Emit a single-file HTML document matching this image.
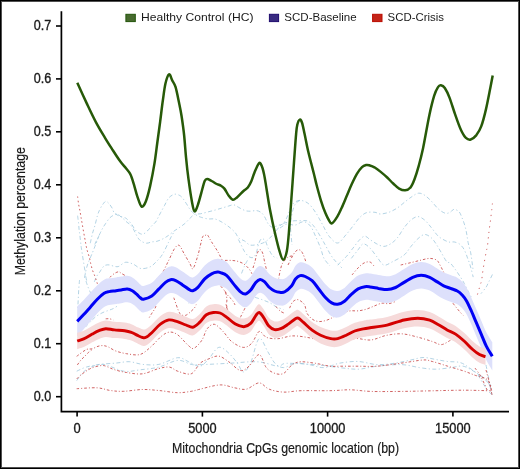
<!DOCTYPE html>
<html><head><meta charset="utf-8"><style>
html,body{margin:0;padding:0;background:#fff;}
body{width:520px;height:469px;overflow:hidden;position:relative;}
#fr{position:absolute;left:0;top:0;width:518px;height:467px;border:1px solid #000;box-shadow:inset 0 0 0 1px #505050;}
svg{position:absolute;left:0;top:0;will-change:transform;}
text{font-family:"Liberation Sans",sans-serif;fill:#1a1a1a;stroke:#1a1a1a;stroke-width:0.35px;}
.tk{font-size:14px;}
.tt{font-size:15.2px;stroke-width:0.2px;}
.lg{font-size:11px;stroke-width:0;}
</style></head><body>
<div id="fr"></div>
<svg width="520" height="469" viewBox="0 0 520 469">
<path d="M90.3,243.2 C90.6,241.7 91.5,237.1 92.3,234.2 C93.0,231.3 93.9,229.0 94.8,225.9 C95.7,222.8 96.7,218.2 97.4,215.7 C98.2,213.1 98.5,212.4 99.3,210.6 C100.1,208.8 101.4,206.3 102.5,204.8 C103.6,203.3 104.6,201.6 105.7,201.4 C106.8,201.2 107.8,202.4 108.9,203.5 C110.0,204.6 111.2,206.5 112.1,208.0 C112.9,209.5 113.2,211.3 114.0,212.5 C114.8,213.7 116.1,214.4 117.2,215.0 C118.3,215.6 119.2,215.9 120.4,216.3 C121.6,216.7 123.1,217.2 124.2,217.6 C125.3,218.0 125.5,217.7 126.8,218.9 C128.1,220.1 130.5,222.8 131.9,224.6 C133.3,226.4 133.9,228.4 135.1,229.8 C136.3,231.2 137.7,232.3 139.0,233.0 C140.3,233.7 141.4,234.5 142.8,234.2 C144.2,233.9 145.8,232.4 147.3,231.0 C148.8,229.6 150.3,227.4 151.7,225.9 C153.1,224.4 154.5,223.5 155.6,222.1 C156.7,220.7 157.2,219.2 158.1,217.6 C158.9,216.0 159.6,214.5 160.7,212.5 C161.8,210.5 163.2,207.8 164.5,205.5 C165.8,203.2 167.1,200.1 168.4,198.4 C169.7,196.7 171.0,195.9 172.2,195.2 C173.4,194.5 174.2,194.2 175.4,194.2 C176.6,194.2 178.0,194.6 179.2,195.2 C180.4,195.8 181.2,196.4 182.4,197.8 C183.6,199.2 185.1,201.7 186.3,203.5 C187.5,205.3 188.4,207.2 189.5,208.7 C190.6,210.2 191.6,211.5 192.7,212.5 C193.8,213.5 194.6,214.1 195.9,214.8 C197.2,215.6 198.3,216.3 200.3,217.0 C202.3,217.7 205.7,218.6 208.0,218.9 C210.3,219.2 212.5,218.6 214.4,218.9 C216.3,219.2 217.6,219.9 219.5,220.8 C221.4,221.8 224.0,223.3 225.9,224.6 C227.8,225.9 229.4,227.1 231.0,228.5 C232.6,229.9 234.2,231.4 235.5,233.0 C236.8,234.6 237.2,236.7 238.7,238.0 C240.2,239.3 242.7,239.8 244.6,241.0 C246.5,242.2 247.9,244.4 250.0,245.0 C252.1,245.6 254.4,245.1 256.9,244.6 C259.4,244.1 262.4,243.5 265.0,242.0 C267.6,240.5 269.6,238.3 272.3,235.4 C275.1,232.5 278.8,226.8 281.5,224.6 C284.2,222.4 286.6,222.7 288.6,222.1 C290.6,221.5 291.5,221.0 293.7,220.8 C295.9,220.6 299.6,220.8 301.8,220.8 C304.0,220.8 305.2,220.2 306.9,220.8 C308.6,221.4 310.4,222.5 312.1,224.2 C313.8,225.9 315.4,228.2 317.2,231.1 C319.0,233.9 320.9,237.3 323.2,241.3 C325.5,245.3 328.7,251.6 330.8,255.0 C332.9,258.4 334.1,259.6 336.0,261.8 C337.9,264.0 341.0,267.0 342.0,268.0" fill="none" stroke="#96c2da" stroke-width="1" stroke-dasharray="4 2.5 1.2 2.5" opacity="0.72"/>
<path d="M94.8,244.5 C95.2,243.5 96.4,240.7 97.4,238.7 C98.4,236.7 99.8,234.0 100.6,232.3 C101.4,230.6 101.7,230.0 102.5,228.5 C103.3,227.0 104.5,225.1 105.7,223.4 C106.9,221.7 108.3,219.5 109.5,218.2 C110.7,216.9 111.5,216.4 112.7,215.7 C113.9,215.0 115.6,214.0 116.6,213.8 C117.6,213.6 117.8,213.9 118.5,214.4 C119.2,214.9 120.0,216.2 121.0,217.0 C122.0,217.8 123.2,218.7 124.2,219.5 C125.2,220.3 125.5,220.9 126.8,222.1 C128.1,223.3 130.1,223.9 131.9,226.5 C133.7,229.1 136.1,234.9 137.7,237.4 C139.3,239.9 140.0,240.3 141.5,241.3 C143.0,242.3 144.9,243.1 146.6,243.2 C148.3,243.3 150.0,242.2 151.7,241.9 C153.4,241.6 155.0,241.8 156.9,241.3 C158.8,240.8 161.3,239.7 163.2,238.7 C165.1,237.7 166.6,236.8 168.4,235.5 C170.2,234.2 172.2,232.4 174.1,231.0 C176.0,229.6 178.1,228.5 179.9,227.2 C181.7,225.9 183.3,224.9 185.0,223.4 C186.7,221.9 188.5,219.7 190.1,218.2 C191.7,216.7 192.9,215.1 194.6,214.4 C196.3,213.7 198.1,214.2 200.3,213.8 C202.5,213.4 205.4,212.6 208.0,211.9 C210.6,211.2 213.3,210.6 215.7,209.9 C218.0,209.2 220.0,208.6 222.1,208.0 C224.2,207.4 226.6,206.6 228.5,206.1 C230.4,205.6 231.9,204.6 233.6,204.8 C235.3,205.0 236.8,206.4 238.7,207.4 C240.6,208.4 243.2,210.0 245.1,210.6 C247.0,211.2 248.3,211.2 250.2,211.2 C252.1,211.2 254.8,210.4 256.6,210.6 C258.4,210.8 259.8,211.6 261.1,212.5 C262.4,213.4 263.2,214.6 264.3,216.3 C265.4,218.0 266.6,221.1 267.5,222.7 C268.4,224.3 269.1,225.2 270.0,225.9 C270.9,226.7 271.8,227.3 273.2,227.2 C274.6,227.1 276.7,225.9 278.4,225.3 C280.1,224.7 281.9,225.1 283.5,223.4 C285.1,221.7 286.8,217.7 288.0,215.0 C289.2,212.3 289.8,209.2 291.0,207.0 C292.2,204.8 293.3,203.2 295.0,202.1 C296.7,201.0 298.7,200.1 301.0,200.4 C303.3,200.7 306.3,201.8 308.7,203.8 C311.1,205.8 313.2,208.9 315.5,212.3 C317.8,215.7 320.0,220.2 322.3,224.2 C324.6,228.2 326.5,233.1 329.1,236.2 C331.7,239.3 334.9,243.3 337.7,243.0 C340.5,242.7 343.6,237.3 346.2,234.5 C348.8,231.7 350.7,228.8 353.0,226.0 C355.3,223.2 357.5,219.6 359.8,217.4 C362.1,215.2 364.2,213.4 366.7,212.6 C369.2,211.8 372.8,212.1 375.0,212.3 C377.2,212.5 377.9,214.0 380.2,214.0 C382.5,214.0 385.9,213.3 388.8,212.3 C391.7,211.3 394.5,209.8 397.3,208.0 C400.1,206.2 403.2,203.2 405.8,201.2 C408.4,199.2 410.6,197.4 412.7,196.1 C414.8,194.8 416.6,193.3 418.6,193.2 C420.6,193.0 422.5,193.9 424.6,195.2 C426.7,196.5 429.1,198.9 431.4,201.2 C433.7,203.5 436.0,206.9 438.3,208.9 C440.6,210.9 443.2,212.6 445.1,213.2 C447.1,213.8 448.5,213.0 450.0,212.3 C451.5,211.7 452.6,209.4 454.1,209.3 C455.6,209.2 457.9,210.6 459.2,211.9 C460.5,213.2 460.9,215.3 461.7,217.0 C462.4,218.7 463.0,220.2 463.7,222.1 C464.4,224.0 465.1,226.4 465.6,228.5 C466.1,230.6 466.5,232.6 466.9,234.9 C467.3,237.2 467.5,239.5 468.1,242.5 C468.7,245.5 470.1,249.6 470.7,252.8 C471.3,256.0 471.6,258.7 472.0,261.7 C472.4,264.7 473.0,269.2 473.2,270.7" fill="none" stroke="#96c2da" stroke-width="1" stroke-dasharray="4 2.5 1.2 2.5" opacity="0.72"/>
<path d="M280.0,228.0 C281.2,227.3 284.5,224.5 287.0,224.0 C289.5,223.5 292.2,225.5 295.0,225.1 C297.8,224.7 300.9,221.5 303.5,221.7 C306.1,221.8 308.4,223.6 310.4,226.0 C312.4,228.4 313.8,232.5 315.5,236.2 C317.2,239.9 319.2,244.4 320.6,248.1 C322.0,251.8 322.4,255.4 324.0,258.4 C325.6,261.4 329.0,264.7 330.0,266.0" fill="none" stroke="#96c2da" stroke-width="1" stroke-dasharray="4 2.5 1.2 2.5" opacity="0.72"/>
<path d="M337.7,265.0 C339.1,263.6 343.6,259.5 346.2,256.7 C348.8,253.9 350.7,250.9 353.0,248.1 C355.3,245.2 357.8,241.6 359.8,239.6 C361.8,237.6 363.3,236.2 365.0,236.2 C366.7,236.2 368.0,238.3 370.0,239.6 C372.0,240.9 374.5,242.8 376.8,243.9 C379.1,245.0 381.4,246.4 383.7,246.4 C386.0,246.4 388.2,245.3 390.5,243.9 C392.8,242.5 395.0,240.6 397.3,237.9 C399.6,235.2 401.8,230.7 404.1,227.7 C406.4,224.7 408.7,221.8 411.0,220.0 C413.3,218.2 415.5,216.6 417.8,216.6 C420.1,216.6 422.3,218.2 424.6,220.0 C426.9,221.8 429.1,225.0 431.4,227.7 C433.7,230.4 436.0,234.1 438.3,236.2 C440.6,238.3 443.2,239.5 445.1,240.5 C447.1,241.5 448.5,242.0 450.0,242.2 C451.5,242.4 452.6,241.6 454.1,241.9 C455.6,242.2 457.7,242.8 459.2,243.8 C460.7,244.8 461.9,246.2 463.0,247.7 C464.1,249.2 464.9,251.1 465.6,252.8 C466.4,254.5 466.9,256.2 467.5,257.9 C468.1,259.6 468.8,261.1 469.4,263.0 C470.0,264.9 470.7,267.0 471.3,269.4 C471.9,271.8 472.9,275.8 473.2,277.1" fill="none" stroke="#96c2da" stroke-width="1" stroke-dasharray="4 2.5 1.2 2.5" opacity="0.72"/>
<path d="M351.3,258.4 C352.4,257.0 356.1,252.2 358.1,249.8 C360.1,247.4 361.3,244.2 363.3,243.9 C365.3,243.6 367.8,246.0 370.0,248.1 C372.2,250.2 374.5,253.9 376.8,256.7 C379.1,259.5 381.2,264.1 383.7,265.0 C386.2,265.9 388.6,263.7 392.0,262.0 C395.4,260.3 400.9,257.6 404.1,255.0 C407.3,252.4 408.7,249.1 411.0,246.4 C413.3,243.7 415.5,240.8 417.8,238.8 C420.1,236.8 422.3,234.7 424.6,234.5 C426.9,234.3 429.4,236.2 431.4,237.9 C433.4,239.6 434.9,242.1 436.6,244.7 C438.3,247.3 440.0,250.5 441.7,253.3 C443.4,256.2 445.4,260.2 446.8,261.8 C448.2,263.4 448.8,261.7 450.2,263.0 C451.6,264.3 453.6,267.0 455.3,269.4 C457.0,271.8 459.0,274.8 460.5,277.1 C462.0,279.5 463.0,281.1 464.3,283.5 C465.6,285.9 466.8,288.6 468.1,291.2 C469.4,293.8 471.4,297.5 472.0,298.8" fill="none" stroke="#96c2da" stroke-width="1" stroke-dasharray="4 2.5 1.2 2.5" opacity="0.72"/>
<path d="M77.6,215.7 C77.8,217.0 78.3,221.1 78.6,223.4 C78.8,225.8 78.9,227.8 79.1,229.8 C79.3,231.8 79.6,233.0 79.9,235.5 C80.2,238.0 80.6,242.4 80.9,244.6 C81.2,246.8 80.9,244.8 81.5,248.9 C82.1,253.0 84.0,264.8 84.7,269.1 C85.4,273.5 85.2,272.9 85.5,275.0 C85.8,277.1 86.6,280.3 86.8,281.4" fill="none" stroke="#96c2da" stroke-width="1" stroke-dasharray="4 2.5 1.2 2.5" opacity="0.72"/>
<path d="M99.0,235.5 C98.7,236.5 97.6,239.5 96.9,241.4 C96.2,243.3 95.5,244.9 94.8,246.7 C94.1,248.5 93.5,250.1 92.7,252.1 C91.9,254.1 91.0,256.0 90.0,258.5 C89.0,261.0 87.8,263.4 86.8,267.0 C85.8,270.6 84.5,277.8 84.0,280.0" fill="none" stroke="#96c2da" stroke-width="1" stroke-dasharray="4 2.5 1.2 2.5" opacity="0.72"/>
<path d="M94.3,281.9 C94.7,280.9 96.0,277.6 96.9,276.0 C97.8,274.4 98.7,273.6 99.6,272.3 C100.5,271.0 101.4,269.1 102.3,268.0 C103.2,266.9 103.8,265.9 104.9,265.4 C106.1,264.9 107.6,264.7 109.2,264.9 C110.8,265.1 112.9,266.1 114.5,266.4 C116.1,266.6 117.0,267.1 118.8,266.4 C120.6,265.7 123.0,262.7 125.4,262.3 C127.8,261.9 130.4,263.0 133.0,264.0 C135.6,265.0 138.0,268.0 140.8,268.5 C143.6,269.0 147.5,268.0 150.0,266.9 C152.5,265.8 153.9,264.1 156.0,262.0 C158.1,259.9 160.2,257.9 162.3,254.6 C164.4,251.3 167.0,245.4 168.5,242.3 C170.0,239.2 170.6,237.9 171.5,236.2 C172.4,234.5 173.6,232.7 174.0,232.0" fill="none" stroke="#96c2da" stroke-width="1" stroke-dasharray="4 2.5 1.2 2.5" opacity="0.72"/>
<path d="M492.4,274.5 C491.8,275.8 489.7,280.1 488.6,282.2 C487.5,284.3 487.3,285.4 486.0,287.3 C484.7,289.2 481.8,292.6 480.9,293.7" fill="none" stroke="#96c2da" stroke-width="1" stroke-dasharray="4 2.5 1.2 2.5" opacity="0.72"/>
<path d="M300.0,200.3 C299.4,200.7 297.4,201.7 296.3,202.9 C295.2,204.1 294.6,204.9 293.7,207.4 C292.8,209.9 291.7,214.9 291.2,218.2 C290.7,221.5 290.5,224.2 290.5,227.2 C290.5,230.2 290.9,233.2 291.2,236.2 C291.4,239.2 291.9,243.5 292.0,245.0" fill="none" stroke="#96c2da" stroke-width="1" stroke-dasharray="4 2.5 1.2 2.5" opacity="0.72"/>
<path d="M238.4,239.5 C238.9,240.5 240.4,243.4 241.4,245.4 C242.4,247.4 243.2,249.5 244.4,251.4 C245.7,253.3 247.4,255.6 248.9,256.6 C250.4,257.6 252.2,258.0 253.4,257.4 C254.6,256.8 255.4,255.1 256.3,252.9 C257.2,250.7 257.7,246.4 258.6,244.0 C259.5,241.6 260.5,239.2 261.6,238.7 C262.7,238.2 264.2,239.4 265.3,241.0 C266.4,242.6 267.1,245.9 268.3,248.4 C269.6,250.9 271.3,254.3 272.8,255.9 C274.3,257.5 276.5,257.7 277.2,258.1" fill="none" stroke="#96c2da" stroke-width="1" stroke-dasharray="4 2.5 1.2 2.5" opacity="0.72"/>
<path d="M247.4,260.4 C246.9,261.4 245.4,264.1 244.4,266.3 C243.4,268.5 241.9,272.6 241.4,273.8" fill="none" stroke="#96c2da" stroke-width="1" stroke-dasharray="4 2.5 1.2 2.5" opacity="0.72"/>
<path d="M85.2,327.1 C86.0,326.2 88.6,323.7 90.3,322.0 C92.0,320.3 93.6,318.4 95.5,316.9 C97.4,315.4 99.8,314.1 101.9,313.0 C104.0,311.9 106.3,311.2 108.2,310.5 C110.1,309.8 111.7,309.4 113.4,308.5 C115.1,307.6 117.7,305.8 118.5,305.3" fill="none" stroke="#96c2da" stroke-width="1" stroke-dasharray="4 2.5 1.2 2.5" opacity="0.72"/>
<path d="M76.7,371.2 C78.3,370.5 82.4,368.2 86.2,367.1 C90.0,366.0 94.7,365.1 99.6,364.4 C104.5,363.7 110.9,363.6 115.8,363.1 C120.7,362.7 124.7,361.5 129.2,361.7 C133.7,361.9 137.8,363.9 142.7,364.4 C147.6,364.8 153.0,365.5 158.8,364.4 C164.6,363.3 172.8,358.1 177.7,357.7 C182.6,357.2 184.8,360.3 188.5,361.7 C192.2,363.1 196.6,366.7 200.0,366.2 C203.4,365.7 205.6,362.0 208.7,358.9 C211.8,355.8 215.3,348.3 218.7,347.4 C222.0,346.4 225.7,350.5 228.8,353.2 C231.9,355.9 235.1,360.2 237.5,363.3 C239.9,366.4 241.1,371.9 243.3,371.9 C245.5,371.9 247.9,368.8 250.5,363.3 C253.1,357.8 256.2,340.6 259.1,338.7 C262.0,336.8 265.2,347.6 267.8,351.7 C270.4,355.8 272.4,360.6 275.0,363.3 C277.6,366.0 280.2,367.6 283.6,367.6 C287.0,367.6 290.9,363.8 295.2,363.3 C299.5,362.8 304.8,364.0 309.6,364.7 C314.4,365.4 318.9,367.9 324.0,367.6 C329.1,367.3 334.2,364.1 340.0,363.1 C345.8,362.1 352.4,361.2 358.5,361.5 C364.6,361.8 370.8,364.3 376.9,364.6 C383.0,364.9 389.8,363.9 395.4,363.1 C401.0,362.3 406.2,360.9 410.8,360.0 C415.4,359.1 419.0,357.6 423.1,357.5 C427.2,357.4 431.3,358.7 435.4,359.4 C439.5,360.1 443.6,361.0 447.7,361.5 C451.8,362.0 456.4,361.5 460.0,362.5 C463.6,363.5 465.6,365.3 469.2,367.7 C472.8,370.1 477.6,373.8 481.5,376.9 C485.4,380.0 490.5,384.6 492.3,386.2" fill="none" stroke="#96c2da" stroke-width="1" stroke-dasharray="4 2.5 1.2 2.5" opacity="0.72"/>
<path d="M76.7,380.6 C78.3,378.8 81.9,372.5 86.2,369.8 C90.5,367.1 96.0,364.2 102.3,364.4 C108.6,364.6 117.5,370.3 123.8,371.2 C130.1,372.1 134.2,370.5 140.0,369.8 C145.8,369.1 152.5,368.7 158.8,367.1 C165.1,365.5 172.3,360.8 177.7,360.4 C183.1,359.9 187.5,363.7 191.2,364.4 C194.9,365.1 193.7,364.9 200.0,364.7 C206.3,364.5 219.2,363.8 228.8,363.3 C238.4,362.8 249.5,361.3 257.7,361.8 C265.9,362.3 273.1,365.9 277.9,366.2 C282.7,366.4 280.2,363.6 286.5,363.3 C292.8,363.1 306.5,364.0 315.4,364.7 C324.3,365.4 332.8,366.9 340.0,367.7 C347.2,368.4 352.4,369.4 358.5,369.2 C364.6,368.9 369.7,367.0 376.9,366.2 C384.1,365.4 394.3,364.4 401.5,364.6 C408.7,364.9 414.4,366.9 420.0,367.7 C425.6,368.5 430.3,369.2 435.4,369.2 C440.5,369.2 446.2,368.2 450.8,367.7 C455.4,367.2 459.0,365.4 463.1,366.2 C467.2,367.0 471.3,369.8 475.4,372.3 C479.5,374.9 484.9,377.7 487.7,381.5 C490.5,385.3 491.3,392.8 492.0,395.0" fill="none" stroke="#96c2da" stroke-width="1" stroke-dasharray="4 2.5 1.2 2.5" opacity="0.72"/>
<path d="M79.5,280.0 C79.4,281.7 78.9,286.7 78.7,290.0 C78.5,293.3 78.4,297.0 78.2,300.0 C78.0,303.0 77.9,306.7 77.8,308.0" fill="none" stroke="#96c2da" stroke-width="1" stroke-dasharray="4 2.5 1.2 2.5" opacity="0.72"/>
<path d="M86.0,281.0 C86.3,282.0 87.2,285.0 88.0,287.0 C88.8,289.0 90.2,292.0 90.6,293.0" fill="none" stroke="#96c2da" stroke-width="1" stroke-dasharray="4 2.5 1.2 2.5" opacity="0.72"/>
<path d="M188.5,303.0 C189.8,302.5 194.9,300.5 196.2,300.0" fill="none" stroke="#96c2da" stroke-width="1" stroke-dasharray="4 2.5 1.2 2.5" opacity="0.72"/>
<path d="M255.0,297.3 C256.1,297.7 259.5,298.7 261.9,299.6 C264.3,300.5 267.3,301.6 269.6,302.7 C271.9,303.8 273.5,305.4 275.8,306.5 C278.1,307.6 282.2,309.1 283.5,309.6" fill="none" stroke="#96c2da" stroke-width="1" stroke-dasharray="4 2.5 1.2 2.5" opacity="0.72"/>
<path d="M486.0,365.0 C486.5,367.5 488.2,375.5 489.0,380.0 C489.8,384.5 490.7,390.0 491.0,392.0" fill="none" stroke="#96c2da" stroke-width="1" stroke-dasharray="4 2.5 1.2 2.5" opacity="0.72"/>
<path d="M478.0,375.0 C479.3,377.2 483.8,384.8 486.0,388.0 C488.2,391.2 490.2,393.0 491.0,394.0" fill="none" stroke="#96c2da" stroke-width="1" stroke-dasharray="4 2.5 1.2 2.5" opacity="0.72"/>
<path d="M77.6,196.5 C77.8,197.8 78.2,201.8 78.6,204.2 C79.0,206.5 79.5,208.4 79.9,210.6 C80.3,212.8 80.8,215.9 81.1,217.6 C81.4,219.2 81.0,217.2 81.6,220.5 C82.2,223.8 83.7,232.7 84.6,237.4 C85.5,242.1 86.0,245.5 86.8,248.9 C87.6,252.3 88.9,255.6 89.5,257.9 C90.1,260.2 90.0,260.8 90.5,262.7 C91.0,264.6 91.6,267.4 92.3,269.6 C93.0,271.8 94.1,274.1 94.8,276.0 C95.5,277.9 96.0,279.5 96.4,280.8 C96.9,282.1 97.3,283.5 97.5,284.0" fill="none" stroke="#c84848" stroke-width="1" stroke-dasharray="1.6 2.6" opacity="0.85"/>
<path d="M76.7,356.3 C78.3,355.2 83.6,350.9 86.2,349.6 C88.8,348.4 90.3,349.4 92.3,348.8 C94.3,348.2 96.2,346.8 98.0,346.3 C99.8,345.8 101.4,345.5 103.1,345.6 C104.8,345.7 106.1,346.0 108.2,346.9 C110.3,347.8 112.8,349.9 115.8,351.0 C118.8,352.1 122.5,353.1 126.5,353.7 C130.5,354.3 135.9,355.6 140.0,354.5 C144.1,353.4 147.2,349.9 150.8,346.9 C154.4,343.8 158.4,338.7 161.5,336.2 C164.6,333.7 166.9,332.3 169.6,332.1 C172.3,331.9 174.5,332.6 177.7,334.8 C180.8,337.1 185.8,343.4 188.5,345.6 C191.2,347.9 191.7,349.2 193.9,348.3 C196.1,347.4 199.7,343.5 201.9,340.2 C204.1,336.9 205.1,331.3 207.2,328.7 C209.3,326.1 211.8,323.8 214.4,324.3 C217.1,324.8 220.2,328.6 223.1,331.5 C226.0,334.4 228.3,339.0 231.7,341.6 C235.1,344.2 239.9,347.1 243.3,347.4 C246.7,347.6 249.3,345.8 251.9,343.1 C254.5,340.5 256.7,332.5 259.1,331.5 C261.5,330.5 263.2,336.1 266.3,337.3 C269.4,338.5 273.6,338.9 277.9,338.7 C282.2,338.5 287.5,336.1 292.3,335.9 C297.1,335.7 302.1,336.6 306.7,337.3 C311.3,338.0 314.4,339.3 320.0,340.0 C325.6,340.7 334.1,341.8 340.0,341.5 C345.9,341.2 350.3,338.8 355.4,338.5 C360.5,338.2 365.7,340.5 370.8,340.0 C375.9,339.5 381.1,336.4 386.2,335.4 C391.3,334.4 396.4,333.6 401.5,333.8 C406.6,334.1 411.8,335.6 416.9,336.9 C422.0,338.2 428.2,340.2 432.3,341.5 C436.4,342.8 438.4,344.9 441.5,344.6 C444.6,344.4 449.2,340.8 450.8,340.0" fill="none" stroke="#c84848" stroke-width="1" stroke-dasharray="2.6 2 1 2" opacity="0.85"/>
<path d="M76.7,379.0 C77.3,378.4 78.8,376.7 80.2,375.5 C81.6,374.3 83.3,373.1 84.9,372.0 C86.5,370.9 87.8,369.9 89.6,369.0 C91.3,368.1 93.2,367.3 95.4,366.7 C97.6,366.1 100.5,365.5 102.5,365.5 C104.5,365.5 105.2,366.0 107.2,366.7 C109.2,367.4 111.0,368.6 114.2,369.6 C117.4,370.6 121.8,371.8 126.5,372.5 C131.2,373.2 137.3,374.5 142.7,373.8 C148.1,373.1 154.3,369.6 158.8,368.5 C163.3,367.4 166.4,366.7 169.6,367.1 C172.8,367.6 174.1,370.1 177.7,371.2 C181.3,372.3 187.5,375.1 191.2,373.8 C194.9,372.5 197.1,365.8 200.0,363.3 C202.9,360.8 205.6,360.1 208.7,358.9 C211.8,357.7 215.3,355.6 218.7,356.1 C222.0,356.6 225.2,359.4 228.8,361.8 C232.4,364.2 237.0,369.8 240.4,370.5 C243.8,371.2 245.9,368.8 249.0,366.2 C252.1,363.6 256.2,354.4 259.1,354.6 C262.0,354.8 263.7,364.5 266.3,367.6 C268.9,370.7 272.1,372.4 275.0,373.4 C277.9,374.4 280.7,374.8 283.6,373.4 C286.5,371.9 289.4,366.6 292.3,364.7 C295.2,362.8 297.1,362.0 301.0,361.8 C304.9,361.6 310.6,362.6 315.4,363.3 C320.2,364.0 325.7,365.7 329.8,366.2 C333.9,366.7 335.2,366.2 340.0,366.2 C344.8,366.2 352.4,366.2 358.5,366.2 C364.6,366.2 369.7,366.7 376.9,366.2 C384.1,365.7 393.8,364.1 401.5,363.1 C409.2,362.1 418.0,360.3 423.1,360.0 C428.2,359.7 428.2,360.5 432.3,361.5 C436.4,362.5 442.6,364.6 447.7,366.2 C452.8,367.8 458.5,369.3 463.1,370.8 C467.7,372.3 471.3,373.9 475.4,375.4 C479.5,376.9 484.9,377.2 487.7,380.0 C490.5,382.8 491.3,390.0 492.0,392.0" fill="none" stroke="#c84848" stroke-width="1" stroke-dasharray="2.6 2 1 2" opacity="0.85"/>
<path d="M76.7,388.7 C80.1,388.6 91.3,387.5 96.9,387.8 C102.5,388.1 105.9,389.9 110.4,390.5 C114.9,391.1 118.4,391.5 123.8,391.3 C129.2,391.1 136.9,389.6 142.7,389.5 C148.5,389.4 153.0,390.0 158.8,390.5 C164.6,391.0 172.3,392.6 177.7,392.7 C183.1,392.8 187.5,391.9 191.2,391.3 C194.9,390.7 195.2,390.3 200.0,389.2 C204.8,388.1 214.4,385.1 220.2,384.9 C226.0,384.7 230.3,387.1 234.6,387.8 C238.9,388.5 242.1,390.0 246.2,389.2 C250.3,388.4 255.3,382.9 259.1,382.9 C262.9,382.9 265.1,387.7 269.2,389.2 C273.3,390.7 278.3,391.9 283.6,392.1 C288.9,392.4 293.3,390.9 301.0,390.7 C308.7,390.5 321.6,390.8 329.8,390.7 C338.0,390.6 343.2,389.7 350.0,389.8 C356.8,389.9 362.2,391.1 370.8,391.4 C379.4,391.7 391.2,391.5 401.5,391.4 C411.8,391.3 422.0,391.0 432.3,390.8 C442.6,390.6 453.4,390.2 463.1,390.2 C472.9,390.2 486.2,390.7 490.8,390.8" fill="none" stroke="#c84848" stroke-width="1" stroke-dasharray="2.6 2 1 2" opacity="0.85"/>
<path d="M150.0,290.0 C151.0,288.3 153.9,282.8 156.0,280.0 C158.1,277.2 160.2,276.3 162.3,273.1 C164.4,269.9 166.4,264.9 168.5,260.8 C170.6,256.7 172.8,251.1 174.6,248.5 C176.4,245.9 177.7,244.6 179.2,245.4 C180.7,246.2 182.0,250.0 183.8,253.1 C185.6,256.2 188.4,261.2 190.0,263.8 C191.6,266.4 191.8,270.0 193.1,268.5 C194.4,267.0 196.5,260.1 198.0,255.0 C199.5,249.9 201.3,240.8 202.3,237.7 C203.3,234.6 203.4,236.7 204.2,236.2 C205.0,235.7 206.2,234.5 206.9,234.6 C207.7,234.7 208.0,235.7 208.7,236.8 C209.4,237.9 209.7,238.9 211.2,241.3 C212.7,243.8 215.6,247.8 217.7,251.5 C219.8,255.2 222.1,259.9 223.8,263.8 C225.5,267.7 227.3,273.1 228.0,275.0" fill="none" stroke="#c84848" stroke-width="1" stroke-dasharray="2.6 2 1 2" opacity="0.85"/>
<path d="M400.7,265.0 C402.4,264.6 407.6,263.4 411.0,262.6 C414.4,261.8 418.1,260.8 421.2,260.1 C424.3,259.4 427.1,258.4 429.7,258.4 C432.3,258.4 434.9,259.0 436.6,260.1 C438.3,261.2 438.6,262.5 440.0,265.0 C441.4,267.5 444.2,273.3 445.0,275.0" fill="none" stroke="#c84848" stroke-width="1" stroke-dasharray="2.6 2 1 2" opacity="0.85"/>
<path d="M492.4,203.5 C492.3,204.5 492.1,206.5 491.8,209.3 C491.5,212.1 490.9,216.8 490.5,220.2 C490.1,223.6 489.5,227.4 489.2,229.8 C488.9,232.2 488.8,233.5 488.6,234.9 C488.5,236.3 488.5,236.1 488.3,238.1 C488.1,240.1 487.7,244.6 487.3,247.0 C486.9,249.4 486.7,249.0 486.0,252.8 C485.3,256.6 483.7,265.4 483.0,270.0 C482.3,274.6 482.1,277.8 481.6,280.3 C481.2,282.8 481.2,281.8 480.3,284.8 C479.4,287.8 477.0,296.0 476.4,298.2" fill="none" stroke="#c84848" stroke-width="1" stroke-dasharray="1.2 4.5" opacity="0.85"/>
<path d="M109.7,277.6 C110.2,277.2 111.4,275.8 112.4,275.0 C113.4,274.2 114.5,273.3 115.6,272.8 C116.7,272.3 117.8,271.7 118.8,271.8 C119.8,271.9 120.2,272.7 121.4,273.4 C122.6,274.1 125.2,275.6 126.0,276.0" fill="none" stroke="#c84848" stroke-width="1" stroke-dasharray="2.6 2 1 2" opacity="0.85"/>
<path d="M225.0,260.4 C226.0,260.4 229.0,260.3 231.0,260.4 C233.0,260.5 234.9,260.6 236.9,261.1 C238.9,261.6 241.2,262.4 242.9,263.4 C244.7,264.4 246.2,265.9 247.4,267.1 C248.7,268.3 249.7,269.7 250.4,270.8 C251.2,271.9 251.7,273.3 251.9,273.8" fill="none" stroke="#c84848" stroke-width="1" stroke-dasharray="2.6 2 1 2" opacity="0.85"/>
<path d="M253.0,268.0 C253.3,267.0 254.3,263.9 254.9,261.9 C255.5,259.9 255.7,257.8 256.3,255.9 C256.9,254.0 257.9,251.7 258.6,250.7 C259.4,249.7 260.1,249.3 260.8,249.9 C261.6,250.5 262.5,252.4 263.1,254.4 C263.7,256.4 264.0,259.2 264.6,261.9 C265.2,264.6 266.4,269.3 266.8,270.8" fill="none" stroke="#c84848" stroke-width="1" stroke-dasharray="2.6 2 1 2" opacity="0.85"/>
<path d="M292.2,255.9 C291.4,256.1 289.3,256.1 287.7,257.4 C286.1,258.6 283.8,261.2 282.5,263.4 C281.2,265.6 280.8,268.3 280.2,270.8 C279.6,273.3 278.9,277.1 278.7,278.3" fill="none" stroke="#c84848" stroke-width="1" stroke-dasharray="2.6 2 1 2" opacity="0.85"/>
<path d="M105.7,318.8 C106.3,318.8 108.2,318.6 109.5,318.8 C110.8,319.0 112.8,319.8 113.4,320.0" fill="none" stroke="#c84848" stroke-width="1" stroke-dasharray="2.6 2 1 2" opacity="0.85"/>
<path d="M288.0,265.0 C288.7,263.7 290.7,259.3 292.0,257.0 C293.3,254.7 294.7,252.2 296.0,251.0 C297.3,249.8 298.8,249.5 300.0,250.0 C301.2,250.5 302.0,252.0 303.0,254.0 C304.0,256.0 305.5,260.7 306.0,262.0" fill="none" stroke="#c84848" stroke-width="1" stroke-dasharray="2.6 2 1 2" opacity="0.85"/>
<path d="M352.0,275.0 C353.0,273.8 356.0,270.0 358.0,268.0 C360.0,266.0 362.0,264.0 364.0,263.0 C366.0,262.0 368.3,261.5 370.0,262.0 C371.7,262.5 373.3,265.3 374.0,266.0" fill="none" stroke="#c84848" stroke-width="1" stroke-dasharray="2.6 2 1 2" opacity="0.85"/>
<path d="M173.8,297.7 C174.2,298.9 175.4,302.4 176.2,304.6 C177.0,306.8 177.7,309.1 178.5,310.8 C179.3,312.5 179.7,313.8 180.8,314.6 C182.0,315.4 183.9,315.8 185.4,315.4 C186.9,315.0 188.5,313.6 190.0,312.3 C191.5,311.0 193.6,309.0 194.6,307.7 C195.6,306.4 195.9,305.1 196.2,304.6" fill="none" stroke="#c84848" stroke-width="1" stroke-dasharray="2.6 2 1 2" opacity="0.85"/>
<path d="M220.8,286.2 C221.6,287.2 224.4,290.0 225.4,292.3 C226.4,294.6 226.8,297.7 226.9,300.0 C227.0,302.3 225.7,304.2 226.0,306.0 C226.3,307.8 228.1,310.2 228.5,311.0" fill="none" stroke="#c84848" stroke-width="1" stroke-dasharray="2.6 2 1 2" opacity="0.85"/>
<path d="M156.0,306.0 C155.8,306.5 155.3,307.9 154.6,309.2 C153.8,310.5 152.4,312.3 151.5,313.8 C150.6,315.3 149.4,317.3 149.0,318.0" fill="none" stroke="#c84848" stroke-width="1" stroke-dasharray="2.6 2 1 2" opacity="0.85"/>
<path d="M225.0,291.2 C225.5,292.0 227.1,294.5 228.1,295.8 C229.1,297.1 230.3,297.8 231.2,298.8 C232.1,299.8 232.9,300.9 233.5,301.9 C234.1,302.9 234.8,304.5 235.0,305.0" fill="none" stroke="#c84848" stroke-width="1" stroke-dasharray="2.6 2 1 2" opacity="0.85"/>
<path d="M226.5,305.0 C226.8,306.3 227.8,311.4 228.1,312.7" fill="none" stroke="#c84848" stroke-width="1" stroke-dasharray="2.6 2 1 2" opacity="0.85"/>
<path d="M240.4,317.3 C240.8,316.5 241.9,314.2 242.7,312.7 C243.5,311.2 244.6,308.9 245.0,308.1" fill="none" stroke="#c84848" stroke-width="1" stroke-dasharray="2.6 2 1 2" opacity="0.85"/>
<path d="M275.8,306.5 C276.6,307.3 278.9,310.0 280.4,311.2 C281.9,312.4 284.2,313.1 285.0,313.5" fill="none" stroke="#c84848" stroke-width="1" stroke-dasharray="2.6 2 1 2" opacity="0.85"/>
<path d="M289.6,308.1 C290.1,307.1 291.4,303.3 292.7,301.9 C294.0,300.5 295.8,299.6 297.3,299.6 C298.8,299.6 300.6,300.9 301.9,301.9 C303.2,302.9 304.2,303.9 305.0,305.8 C305.8,307.7 305.7,310.9 306.9,313.1 C308.1,315.3 310.4,317.8 312.3,319.2 C314.2,320.6 316.4,321.2 318.5,321.5 C320.6,321.8 322.6,321.3 324.6,320.8 C326.7,320.3 329.0,319.4 330.8,318.5 C332.6,317.6 334.6,315.9 335.4,315.4" fill="none" stroke="#c84848" stroke-width="1" stroke-dasharray="2.6 2 1 2" opacity="0.85"/>
<path d="M345.0,312.0 C346.0,311.8 348.6,311.0 350.8,310.8 C353.1,310.6 355.9,311.1 358.5,310.8 C361.1,310.5 363.6,310.0 366.2,309.2 C368.8,308.4 371.2,307.2 373.8,306.2 C376.4,305.2 379.4,303.6 381.9,303.2 C384.4,302.8 386.5,304.0 388.8,303.7 C391.1,303.4 394.6,301.8 395.8,301.4" fill="none" stroke="#c84848" stroke-width="1" stroke-dasharray="2.6 2 1 2" opacity="0.85"/>
<path d="M452.9,303.2 C453.5,303.9 455.1,306.1 456.3,307.5 C457.5,308.9 458.7,310.5 459.8,311.8 C460.9,313.1 462.6,314.7 463.2,315.3" fill="none" stroke="#c84848" stroke-width="1" stroke-dasharray="2.6 2 1 2" opacity="0.85"/>
<path d="M475.0,368.0 C475.8,369.2 478.5,372.5 480.0,375.0 C481.5,377.5 482.8,380.5 484.0,383.0 C485.2,385.5 486.5,388.8 487.0,390.0" fill="none" stroke="#c84848" stroke-width="1" stroke-dasharray="2.6 2 1 2" opacity="0.85"/>
<path d="M77.3,365.0 C77.9,364.2 79.5,361.7 80.8,360.2 C82.1,358.7 83.6,357.4 84.9,356.1 C86.2,354.8 87.2,353.6 88.4,352.5 C89.6,351.4 91.4,350.2 92.0,349.7" fill="none" stroke="#c84848" stroke-width="1" stroke-dasharray="2.6 2 1 2" opacity="0.85"/>
<path d="M486.0,370.0 C486.7,372.5 489.0,380.8 490.0,385.0 C491.0,389.2 491.7,393.3 492.0,395.0" fill="none" stroke="#c84848" stroke-width="1" stroke-dasharray="2.6 2 1 2" opacity="0.85"/>
<path d="M77.2,306.3 C78.3,305.2 81.5,302.2 83.7,299.9 C85.9,297.6 88.2,295.0 90.5,292.5 C92.8,290.1 95.0,287.4 97.3,285.2 C99.6,283.1 102.1,280.8 104.1,279.7 C106.1,278.5 107.2,278.6 109.2,278.3 C111.2,277.9 114.1,277.7 116.1,277.4 C118.1,277.1 119.3,276.9 121.2,276.6 C123.1,276.3 125.3,275.6 127.2,275.7 C129.1,275.8 130.7,276.5 132.3,277.4 C133.9,278.2 135.3,279.7 136.6,280.8 C137.9,281.9 138.9,283.4 140.0,284.2 C141.1,285.0 141.4,286.1 143.4,285.9 C145.4,285.6 149.2,284.4 151.8,282.7 C154.4,281.0 156.4,278.1 158.7,275.8 C161.0,273.5 163.5,270.6 165.5,269.0 C167.5,267.4 168.9,266.7 170.6,266.4 C172.3,266.1 173.7,266.4 175.7,267.3 C177.7,268.2 180.4,270.2 182.5,271.6 C184.6,273.0 186.8,274.8 188.5,275.8 C190.2,276.8 191.2,277.8 192.8,277.5 C194.4,277.2 195.9,276.1 197.9,274.1 C199.9,272.1 202.4,267.9 204.7,265.6 C207.0,263.3 209.5,261.6 211.6,260.5 C213.7,259.4 216.0,259.0 217.5,258.8 C219.0,258.6 218.9,258.7 220.5,259.3 C222.1,259.9 224.6,260.4 226.8,262.3 C229.0,264.2 231.4,268.1 233.7,270.8 C236.0,273.5 238.5,276.9 240.5,278.5 C242.5,280.1 243.9,281.0 245.6,280.7 C247.3,280.4 249.0,278.7 250.7,276.8 C252.4,274.9 254.2,270.9 255.8,269.1 C257.4,267.3 258.7,266.2 260.1,266.1 C261.5,266.0 262.8,266.9 264.4,268.3 C266.0,269.7 267.8,272.6 269.5,274.2 C271.2,275.8 272.9,276.9 274.6,277.7 C276.3,278.5 278.0,278.9 279.7,279.0 C281.4,279.1 282.8,279.6 284.8,278.5 C286.8,277.4 289.9,274.6 291.7,272.5 C293.5,270.4 294.1,267.4 295.5,265.7 C296.9,264.0 298.5,262.7 300.1,262.3 C301.7,261.9 303.2,262.4 305.2,263.2 C307.2,264.0 309.8,265.3 312.1,267.4 C314.4,269.5 316.6,273.0 318.9,275.9 C321.2,278.8 323.6,282.2 325.7,284.5 C327.8,286.8 329.7,288.5 331.7,289.6 C333.7,290.7 335.6,291.3 337.7,291.0 C339.8,290.7 342.2,289.5 344.5,287.9 C346.8,286.2 349.0,283.1 351.3,281.1 C353.6,279.0 355.8,276.9 358.1,275.6 C360.4,274.3 363.0,273.7 365.0,273.4 C367.0,273.1 367.8,273.3 370.0,273.6 C372.2,273.9 375.6,274.6 378.5,275.1 C381.4,275.5 384.2,276.4 387.1,276.3 C390.0,276.2 392.8,275.4 395.6,274.2 C398.4,273.0 401.2,270.8 404.1,269.1 C407.0,267.4 409.9,265.2 412.7,264.0 C415.5,262.8 418.4,262.0 421.2,262.0 C424.0,262.0 427.1,262.9 429.7,264.0 C432.3,265.1 434.5,266.9 436.8,268.3 C439.1,269.7 441.4,271.4 443.7,272.5 C446.0,273.6 448.2,274.2 450.5,275.1 C452.8,276.0 455.3,276.6 457.3,277.7 C459.3,278.8 460.8,280.2 462.4,281.9 C464.0,283.6 465.3,285.4 466.7,287.9 C468.1,290.4 469.4,293.4 471.0,296.9 C472.6,300.3 474.4,304.8 476.1,308.7 C477.8,312.6 479.5,316.5 481.2,320.4 C482.9,324.3 484.4,328.6 486.3,332.2 C488.2,335.8 491.3,340.5 492.3,342.2 L492.3,370.4 C491.3,368.7 488.2,363.8 486.3,360.0 C484.4,356.2 482.9,351.9 481.2,347.8 C479.5,343.8 477.8,339.8 476.1,335.7 C474.4,331.7 472.6,327.1 471.0,323.5 C469.4,320.0 468.1,317.0 466.7,314.5 C465.3,312.0 464.0,310.2 462.4,308.5 C460.8,306.8 459.3,305.4 457.3,304.3 C455.3,303.2 452.8,302.6 450.5,301.7 C448.2,300.8 446.0,300.2 443.7,299.1 C441.4,298.0 439.1,296.3 436.8,294.9 C434.5,293.5 432.3,291.7 429.7,290.6 C427.1,289.6 424.0,288.6 421.2,288.6 C418.4,288.6 415.5,289.4 412.7,290.6 C409.9,291.8 407.0,294.0 404.1,295.7 C401.2,297.4 398.4,299.6 395.6,300.8 C392.8,302.0 390.0,302.8 387.1,302.9 C384.2,303.1 381.4,302.1 378.5,301.7 C375.6,301.2 372.2,300.5 370.0,300.2 C367.8,299.9 367.0,299.7 365.0,300.0 C363.0,300.3 360.4,300.9 358.1,302.2 C355.8,303.5 353.6,305.6 351.3,307.7 C349.0,309.8 346.8,312.9 344.5,314.5 C342.2,316.1 339.8,317.3 337.7,317.6 C335.6,317.9 333.7,317.3 331.7,316.2 C329.7,315.1 327.8,313.4 325.7,311.1 C323.6,308.8 321.2,305.4 318.9,302.5 C316.6,299.6 314.4,296.1 312.1,294.0 C309.8,291.9 307.2,290.6 305.2,289.8 C303.2,289.0 301.7,288.5 300.1,288.9 C298.5,289.3 296.9,290.6 295.5,292.3 C294.1,294.0 293.5,297.0 291.7,299.1 C289.9,301.2 286.8,304.0 284.8,305.1 C282.8,306.2 281.4,305.7 279.7,305.6 C278.0,305.5 276.3,305.1 274.6,304.3 C272.9,303.5 271.2,302.4 269.5,300.8 C267.8,299.2 266.0,296.3 264.4,294.9 C262.8,293.6 261.5,292.6 260.1,292.7 C258.7,292.8 257.4,293.9 255.8,295.7 C254.2,297.5 252.4,301.5 250.7,303.4 C249.0,305.3 247.3,307.0 245.6,307.3 C243.9,307.6 242.5,306.8 240.5,305.1 C238.5,303.5 236.0,300.1 233.7,297.4 C231.4,294.7 229.0,290.8 226.8,288.9 C224.6,287.0 222.1,286.5 220.5,285.9 C218.9,285.3 219.0,285.2 217.5,285.4 C216.0,285.6 213.7,286.0 211.6,287.1 C209.5,288.2 207.0,289.9 204.7,292.2 C202.4,294.5 199.9,298.7 197.9,300.7 C195.9,302.7 194.4,303.8 192.8,304.1 C191.2,304.4 190.2,303.4 188.5,302.4 C186.8,301.4 184.6,299.6 182.5,298.2 C180.4,296.8 177.7,294.8 175.7,293.9 C173.7,293.0 172.3,292.7 170.6,293.0 C168.9,293.3 167.5,294.0 165.5,295.6 C163.5,297.2 161.0,300.1 158.7,302.4 C156.4,304.7 154.4,307.6 151.8,309.3 C149.2,311.0 145.4,312.2 143.4,312.5 C141.4,312.8 141.1,311.6 140.0,310.8 C138.9,310.0 137.9,308.5 136.6,307.4 C135.3,306.3 133.9,304.9 132.3,304.0 C130.7,303.1 129.1,302.4 127.2,302.3 C125.3,302.2 123.1,302.9 121.2,303.2 C119.3,303.5 118.1,303.7 116.1,304.0 C114.1,304.3 111.2,304.5 109.2,304.9 C107.2,305.4 106.1,305.5 104.1,306.9 C102.1,308.3 99.6,310.8 97.3,313.2 C95.0,315.6 92.8,318.6 90.5,321.3 C88.2,324.0 85.9,326.8 83.7,329.3 C81.5,331.9 78.3,335.3 77.2,336.5 Z" fill="#dde0fb"/>
<path d="M77.2,332.8 C78.3,332.4 81.2,331.8 83.7,330.7 C86.2,329.6 89.7,327.3 92.2,325.9 C94.8,324.5 96.7,323.4 99.0,322.5 C101.3,321.6 103.2,320.6 105.8,320.5 C108.4,320.4 111.3,321.4 114.4,321.7 C117.5,322.0 121.8,322.1 124.6,322.5 C127.4,322.9 129.1,323.3 131.4,324.2 C133.7,325.1 136.5,326.8 138.3,327.6 C140.2,328.5 141.2,329.1 142.5,329.3 C143.8,329.6 144.4,329.9 146.0,329.1 C147.6,328.3 149.4,326.7 151.8,324.5 C154.2,322.3 157.6,318.0 160.4,315.9 C163.2,313.8 166.1,312.1 168.9,311.7 C171.7,311.3 174.6,312.6 177.4,313.4 C180.2,314.3 183.4,315.9 186.0,316.8 C188.6,317.7 190.5,319.4 192.8,319.0 C195.1,318.6 197.3,316.3 199.6,314.2 C201.9,312.1 204.1,308.1 206.4,306.5 C208.7,304.9 211.0,304.6 213.3,304.3 C215.6,304.0 217.8,304.0 220.1,304.8 C222.3,305.6 224.2,307.2 226.8,309.1 C229.4,311.0 232.6,314.3 235.4,315.9 C238.2,317.5 241.4,318.6 243.9,318.5 C246.4,318.4 248.7,317.0 250.7,315.1 C252.7,313.2 254.4,309.2 255.8,307.4 C257.2,305.6 257.9,304.0 259.2,304.3 C260.5,304.6 261.9,306.9 263.5,309.1 C265.1,311.3 266.8,315.6 268.6,317.6 C270.5,319.7 272.5,321.0 274.6,321.4 C276.7,321.8 279.1,321.1 281.4,320.2 C283.7,319.3 286.0,317.5 288.3,315.9 C290.6,314.3 293.4,311.8 295.1,310.8 C296.8,309.8 297.0,309.4 298.4,310.0 C299.8,310.6 301.2,312.2 303.5,314.2 C305.8,316.2 309.2,319.8 312.1,321.9 C315.0,324.0 317.5,325.6 320.6,327.0 C323.7,328.4 328.0,329.8 330.8,330.4 C333.6,331.0 335.1,331.0 337.7,330.4 C340.3,329.8 343.4,328.3 346.2,327.0 C349.0,325.7 351.8,323.9 354.7,322.8 C357.6,321.8 360.8,321.2 363.3,320.7 C365.9,320.2 366.0,320.2 370.0,319.6 C374.0,319.0 381.4,318.2 387.1,316.9 C392.8,315.6 399.0,312.9 404.1,311.8 C409.2,310.7 413.5,310.1 417.8,310.1 C422.1,310.1 426.2,310.9 429.7,312.0 C433.1,313.1 435.6,314.9 438.5,316.5 C441.4,318.1 444.2,320.1 447.1,321.7 C450.0,323.3 452.8,324.1 455.6,325.9 C458.4,327.8 461.2,330.2 464.1,332.8 C467.0,335.4 470.1,339.0 472.7,341.3 C475.3,343.6 477.4,345.2 479.5,346.4 C481.6,347.6 484.5,348.1 485.5,348.5 L485.5,364.9 C484.5,364.5 481.6,364.0 479.5,362.8 C477.4,361.6 475.3,360.0 472.7,357.7 C470.1,355.4 467.0,351.8 464.1,349.2 C461.2,346.6 458.4,344.2 455.6,342.3 C452.8,340.4 450.0,339.7 447.1,338.1 C444.2,336.5 441.4,334.5 438.5,332.9 C435.6,331.3 433.1,329.5 429.7,328.4 C426.2,327.3 422.1,326.5 417.8,326.5 C413.5,326.5 409.2,327.1 404.1,328.2 C399.0,329.3 392.8,332.0 387.1,333.3 C381.4,334.6 374.0,335.4 370.0,336.0 C366.0,336.6 365.9,336.6 363.3,337.1 C360.8,337.6 357.6,338.1 354.7,339.2 C351.8,340.2 349.0,342.1 346.2,343.4 C343.4,344.7 340.3,346.2 337.7,346.8 C335.1,347.4 333.6,347.4 330.8,346.8 C328.0,346.2 323.7,344.8 320.6,343.4 C317.5,342.0 315.0,340.4 312.1,338.3 C309.2,336.2 305.8,332.6 303.5,330.6 C301.2,328.6 299.8,327.0 298.4,326.4 C297.0,325.8 296.8,326.2 295.1,327.2 C293.4,328.2 290.6,330.7 288.3,332.3 C286.0,333.9 283.7,335.7 281.4,336.6 C279.1,337.5 276.7,338.2 274.6,337.8 C272.5,337.4 270.5,336.1 268.6,334.0 C266.8,331.9 265.1,327.7 263.5,325.5 C261.9,323.3 260.5,321.0 259.2,320.7 C257.9,320.4 257.2,322.0 255.8,323.8 C254.4,325.6 252.7,329.6 250.7,331.5 C248.7,333.4 246.4,334.8 243.9,334.9 C241.4,335.0 238.2,333.9 235.4,332.3 C232.6,330.7 229.4,327.4 226.8,325.5 C224.2,323.6 222.3,322.0 220.1,321.2 C217.8,320.4 215.6,320.4 213.3,320.7 C211.0,321.0 208.7,321.2 206.4,322.9 C204.1,324.5 201.9,328.5 199.6,330.6 C197.3,332.7 195.1,335.0 192.8,335.4 C190.5,335.8 188.6,334.1 186.0,333.2 C183.4,332.3 180.2,330.7 177.4,329.8 C174.6,328.9 171.7,327.7 168.9,328.1 C166.1,328.5 163.2,330.2 160.4,332.3 C157.6,334.4 154.2,338.7 151.8,340.9 C149.4,343.1 147.6,344.7 146.0,345.5 C144.4,346.3 143.8,345.9 142.5,345.7 C141.2,345.4 140.2,344.9 138.3,344.0 C136.5,343.1 133.7,341.4 131.4,340.6 C129.1,339.7 127.4,339.3 124.6,338.9 C121.8,338.5 117.5,338.4 114.4,338.1 C111.3,337.8 108.4,336.8 105.8,336.9 C103.2,337.0 101.3,338.0 99.0,338.9 C96.7,339.8 94.8,340.9 92.2,342.3 C89.7,343.7 86.2,345.9 83.7,347.1 C81.2,348.2 78.3,348.8 77.2,349.2 Z" fill="#f6dada"/>
<path d="M77.2,321.4 C78.3,320.3 81.5,317.0 83.7,314.6 C85.9,312.2 88.2,309.5 90.5,306.9 C92.8,304.3 95.0,301.5 97.3,299.2 C99.6,296.9 102.1,294.6 104.1,293.3 C106.1,292.0 107.2,292.0 109.2,291.6 C111.2,291.2 114.1,291.0 116.1,290.7 C118.1,290.4 119.3,290.2 121.2,289.9 C123.1,289.6 125.3,288.9 127.2,289.0 C129.1,289.1 130.7,289.8 132.3,290.7 C133.9,291.6 135.3,293.0 136.6,294.1 C137.9,295.2 138.9,296.6 140.0,297.5 C141.1,298.4 141.4,299.4 143.4,299.2 C145.4,298.9 149.2,297.7 151.8,296.0 C154.4,294.3 156.4,291.4 158.7,289.1 C161.0,286.8 163.5,283.9 165.5,282.3 C167.5,280.7 168.9,280.0 170.6,279.7 C172.3,279.4 173.7,279.7 175.7,280.6 C177.7,281.5 180.4,283.5 182.5,284.9 C184.6,286.3 186.8,288.1 188.5,289.1 C190.2,290.1 191.2,291.1 192.8,290.8 C194.4,290.5 195.9,289.4 197.9,287.4 C199.9,285.4 202.4,281.2 204.7,278.9 C207.0,276.6 209.5,274.9 211.6,273.8 C213.7,272.7 216.0,272.3 217.5,272.1 C219.0,271.9 218.9,272.0 220.5,272.6 C222.1,273.2 224.6,273.7 226.8,275.6 C229.0,277.5 231.4,281.4 233.7,284.1 C236.0,286.8 238.5,290.2 240.5,291.8 C242.5,293.4 243.9,294.3 245.6,294.0 C247.3,293.7 249.0,292.0 250.7,290.1 C252.4,288.2 254.2,284.2 255.8,282.4 C257.4,280.6 258.7,279.5 260.1,279.4 C261.5,279.3 262.8,280.2 264.4,281.6 C266.0,283.0 267.8,285.9 269.5,287.5 C271.2,289.1 272.9,290.2 274.6,291.0 C276.3,291.8 278.0,292.2 279.7,292.3 C281.4,292.4 282.8,292.9 284.8,291.8 C286.8,290.7 289.9,287.9 291.7,285.8 C293.5,283.7 294.1,280.7 295.5,279.0 C296.9,277.3 298.5,276.0 300.1,275.6 C301.7,275.2 303.2,275.6 305.2,276.5 C307.2,277.4 309.8,278.6 312.1,280.7 C314.4,282.8 316.6,286.3 318.9,289.2 C321.2,292.1 323.6,295.5 325.7,297.8 C327.8,300.1 329.7,301.8 331.7,302.9 C333.7,304.0 335.6,304.6 337.7,304.3 C339.8,304.0 342.2,302.9 344.5,301.2 C346.8,299.5 349.0,296.4 351.3,294.4 C353.6,292.3 355.8,290.2 358.1,288.9 C360.4,287.6 363.0,287.0 365.0,286.7 C367.0,286.4 367.8,286.6 370.0,286.9 C372.2,287.2 375.6,287.9 378.5,288.4 C381.4,288.8 384.2,289.8 387.1,289.6 C390.0,289.5 392.8,288.7 395.6,287.5 C398.4,286.3 401.2,284.1 404.1,282.4 C407.0,280.7 409.9,278.5 412.7,277.3 C415.5,276.1 418.4,275.3 421.2,275.3 C424.0,275.3 427.1,276.2 429.7,277.3 C432.3,278.4 434.5,280.2 436.8,281.6 C439.1,283.0 441.4,284.7 443.7,285.8 C446.0,286.9 448.2,287.5 450.5,288.4 C452.8,289.3 455.3,289.9 457.3,291.0 C459.3,292.1 460.8,293.5 462.4,295.2 C464.0,296.9 465.3,298.7 466.7,301.2 C468.1,303.7 469.4,306.7 471.0,310.2 C472.6,313.7 474.4,318.2 476.1,322.2 C477.8,326.2 479.5,330.1 481.2,334.1 C482.9,338.1 484.4,342.4 486.3,346.1 C488.2,349.8 491.3,354.6 492.3,356.3" fill="none" stroke="#0000f5" stroke-width="3" stroke-linejoin="round"/>
<path d="M77.2,341.0 C78.3,340.6 81.2,340.0 83.7,338.9 C86.2,337.8 89.7,335.5 92.2,334.1 C94.8,332.7 96.7,331.6 99.0,330.7 C101.3,329.8 103.2,328.8 105.8,328.7 C108.4,328.6 111.3,329.6 114.4,329.9 C117.5,330.2 121.8,330.3 124.6,330.7 C127.4,331.1 129.1,331.5 131.4,332.4 C133.7,333.2 136.5,334.9 138.3,335.8 C140.2,336.7 141.2,337.2 142.5,337.5 C143.8,337.8 144.4,338.1 146.0,337.3 C147.6,336.5 149.4,334.9 151.8,332.7 C154.2,330.5 157.6,326.2 160.4,324.1 C163.2,322.0 166.1,320.3 168.9,319.9 C171.7,319.5 174.6,320.8 177.4,321.6 C180.2,322.5 183.4,324.1 186.0,325.0 C188.6,325.9 190.5,327.6 192.8,327.2 C195.1,326.8 197.3,324.5 199.6,322.4 C201.9,320.3 204.1,316.3 206.4,314.7 C208.7,313.1 211.0,312.8 213.3,312.5 C215.6,312.2 217.8,312.2 220.1,313.0 C222.3,313.8 224.2,315.4 226.8,317.3 C229.4,319.2 232.6,322.5 235.4,324.1 C238.2,325.7 241.4,326.8 243.9,326.7 C246.4,326.6 248.7,325.1 250.7,323.3 C252.7,321.5 254.4,317.4 255.8,315.6 C257.2,313.8 257.9,312.2 259.2,312.5 C260.5,312.8 261.9,315.1 263.5,317.3 C265.1,319.5 266.8,323.8 268.6,325.8 C270.5,327.9 272.5,329.2 274.6,329.6 C276.7,330.0 279.1,329.3 281.4,328.4 C283.7,327.5 286.0,325.7 288.3,324.1 C290.6,322.5 293.4,320.0 295.1,319.0 C296.8,318.0 297.0,317.6 298.4,318.2 C299.8,318.8 301.2,320.4 303.5,322.4 C305.8,324.4 309.2,328.0 312.1,330.1 C315.0,332.2 317.5,333.8 320.6,335.2 C323.7,336.6 328.0,338.0 330.8,338.6 C333.6,339.2 335.1,339.2 337.7,338.6 C340.3,338.0 343.4,336.5 346.2,335.2 C349.0,333.9 351.8,332.1 354.7,331.0 C357.6,329.9 360.8,329.4 363.3,328.9 C365.9,328.4 366.0,328.4 370.0,327.8 C374.0,327.2 381.4,326.4 387.1,325.1 C392.8,323.8 399.0,321.1 404.1,320.0 C409.2,318.9 413.5,318.3 417.8,318.3 C422.1,318.3 426.2,319.1 429.7,320.2 C433.1,321.3 435.6,323.1 438.5,324.7 C441.4,326.3 444.2,328.3 447.1,329.9 C450.0,331.5 452.8,332.2 455.6,334.1 C458.4,336.0 461.2,338.4 464.1,341.0 C467.0,343.6 470.1,347.2 472.7,349.5 C475.3,351.8 477.4,353.4 479.5,354.6 C481.6,355.8 484.5,356.4 485.5,356.7" fill="none" stroke="#d40000" stroke-width="2.9" stroke-linejoin="round"/>
<path d="M77.3,82.8 C78.9,86.3 84.0,97.5 87.1,104.1 C90.2,110.7 93.0,116.7 96.0,122.3 C99.0,127.9 102.2,133.1 105.0,137.8 C107.8,142.5 110.5,146.6 113.0,150.5 C115.5,154.4 118.0,158.3 120.2,161.3 C122.4,164.3 124.3,166.1 126.0,168.3 C127.7,170.5 129.2,171.8 130.5,174.5 C131.8,177.2 132.8,180.8 133.9,184.4 C135.0,188.0 136.0,192.6 137.3,196.3 C138.6,200.0 140.2,205.8 141.6,206.6 C143.0,207.4 144.4,204.8 145.8,201.4 C147.2,198.0 148.7,192.3 150.1,186.1 C151.5,179.8 153.2,171.2 154.4,163.9 C155.6,156.6 156.4,149.1 157.4,142.0 C158.4,134.9 159.3,128.2 160.2,121.3 C161.1,114.4 161.9,107.0 162.8,100.8 C163.7,94.5 164.4,88.2 165.4,83.8 C166.4,79.4 168.0,75.0 169.1,74.4 C170.2,73.8 171.1,78.3 172.2,80.4 C173.3,82.5 174.5,83.5 175.6,87.2 C176.7,90.9 178.0,97.7 179.0,102.5 C180.0,107.3 180.8,110.8 181.6,116.2 C182.4,121.6 183.4,128.2 184.1,135.0 C184.8,141.8 185.3,149.7 186.0,157.1 C186.7,164.5 187.5,171.8 188.5,179.2 C189.5,186.6 190.9,196.1 191.9,201.4 C192.9,206.8 193.5,210.7 194.5,211.3 C195.5,211.9 196.8,207.9 197.9,204.8 C199.0,201.7 200.2,196.9 201.3,192.9 C202.4,188.9 203.7,183.3 204.7,181.0 C205.7,178.7 206.2,178.9 207.3,178.9 C208.5,178.9 210.0,180.2 211.6,181.0 C213.2,181.8 215.1,183.2 216.7,184.0 C218.3,184.8 219.7,184.9 221.0,185.7 C222.3,186.5 223.1,187.0 224.4,188.6 C225.7,190.2 227.2,193.7 228.6,195.5 C230.0,197.3 231.5,199.4 232.9,199.7 C234.3,200.0 235.4,198.6 237.2,197.2 C239.0,195.8 241.7,192.6 243.5,191.0 C245.3,189.4 246.5,189.1 247.8,187.5 C249.1,185.9 250.1,184.2 251.2,181.6 C252.3,179.0 253.3,175.2 254.6,172.2 C255.9,169.1 257.8,164.4 258.9,163.3 C260.0,162.2 260.6,163.6 261.5,165.4 C262.4,167.2 263.1,169.9 264.0,173.9 C264.9,177.9 265.6,183.2 266.6,189.2 C267.6,195.2 268.6,202.4 270.0,209.7 C271.4,217.0 273.3,226.0 274.9,232.8 C276.5,239.6 278.0,246.2 279.4,250.7 C280.8,255.2 281.9,259.7 283.1,259.7 C284.4,259.7 285.9,255.7 286.9,250.7 C287.9,245.7 288.4,238.3 289.1,229.9 C289.8,221.5 290.5,211.0 291.3,200.0 C292.1,189.0 293.1,174.7 293.9,163.7 C294.7,152.7 295.5,140.6 296.1,134.1 C296.7,127.6 296.7,127.1 297.3,124.7 C297.9,122.3 299.0,119.9 299.8,119.6 C300.6,119.3 301.3,120.6 302.1,123.0 C302.9,125.4 303.6,129.5 304.6,134.1 C305.6,138.7 306.9,145.8 308.0,150.5 C309.1,155.2 310.0,158.6 311.0,162.5 C312.0,166.4 313.0,170.3 314.0,174.2 C315.0,178.1 315.6,181.3 316.8,185.8 C318.0,190.3 319.7,196.6 321.1,201.2 C322.5,205.8 324.1,210.0 325.4,213.1 C326.7,216.2 327.7,218.3 328.8,220.0 C329.9,221.7 330.4,224.0 331.8,223.4 C333.2,222.8 335.7,219.2 337.3,216.6 C338.9,214.0 340.0,211.4 341.6,208.0 C343.2,204.6 345.0,200.1 346.7,196.1 C348.4,192.1 350.1,187.8 351.8,184.1 C353.5,180.4 355.2,176.7 356.9,173.9 C358.6,171.1 360.4,168.6 362.0,167.1 C363.6,165.6 365.1,165.3 366.3,165.0 C367.5,164.7 368.0,164.9 369.3,165.3 C370.6,165.7 372.5,166.2 374.4,167.3 C376.2,168.4 378.3,169.9 380.4,171.6 C382.5,173.3 385.1,175.5 387.2,177.5 C389.3,179.5 391.2,181.7 393.2,183.5 C395.2,185.3 397.1,187.5 399.1,188.6 C401.1,189.7 403.2,190.4 405.1,190.3 C407.0,190.2 408.6,189.7 410.2,187.8 C411.8,186.0 413.1,182.9 414.5,179.2 C415.9,175.5 417.4,170.7 418.8,165.6 C420.2,160.5 421.2,156.9 423.0,148.5 C424.8,140.1 427.5,123.7 429.4,114.9 C431.3,106.1 432.8,100.3 434.2,95.7 C435.6,91.1 436.9,88.8 438.0,87.1 C439.1,85.3 439.8,85.0 440.9,85.2 C442.0,85.4 443.4,85.9 444.8,88.0 C446.2,90.1 447.8,93.1 449.5,97.6 C451.2,102.1 453.4,109.5 455.3,114.9 C457.2,120.4 459.3,126.5 461.1,130.3 C462.9,134.1 464.3,136.4 465.9,137.9 C467.5,139.4 468.9,140.0 470.7,139.5 C472.4,139.0 474.6,137.3 476.4,135.1 C478.1,132.9 479.6,130.7 481.2,126.4 C482.8,122.1 484.6,115.2 486.0,109.1 C487.4,103.0 488.8,95.6 489.9,90.0 C491.0,84.4 492.2,78.0 492.7,75.6" fill="none" stroke="#275a08" stroke-width="2.5" stroke-linejoin="round"/>
<path d="M61.4,11.2 V411.7 H509" fill="none" stroke="#000" stroke-width="1.7"/>
<line x1="56" y1="396.7" x2="61.3" y2="396.7" stroke="#000" stroke-width="1.6"/>
<text x="51.3" y="401.0" text-anchor="end" class="tk" textLength="17.5" lengthAdjust="spacingAndGlyphs">0.0</text>
<line x1="56" y1="343.7" x2="61.3" y2="343.7" stroke="#000" stroke-width="1.6"/>
<text x="51.3" y="348.0" text-anchor="end" class="tk" textLength="17.5" lengthAdjust="spacingAndGlyphs">0.1</text>
<line x1="56" y1="290.8" x2="61.3" y2="290.8" stroke="#000" stroke-width="1.6"/>
<text x="51.3" y="295.1" text-anchor="end" class="tk" textLength="17.5" lengthAdjust="spacingAndGlyphs">0.2</text>
<line x1="56" y1="237.8" x2="61.3" y2="237.8" stroke="#000" stroke-width="1.6"/>
<text x="51.3" y="242.1" text-anchor="end" class="tk" textLength="17.5" lengthAdjust="spacingAndGlyphs">0.3</text>
<line x1="56" y1="184.8" x2="61.3" y2="184.8" stroke="#000" stroke-width="1.6"/>
<text x="51.3" y="189.1" text-anchor="end" class="tk" textLength="17.5" lengthAdjust="spacingAndGlyphs">0.4</text>
<line x1="56" y1="131.8" x2="61.3" y2="131.8" stroke="#000" stroke-width="1.6"/>
<text x="51.3" y="136.1" text-anchor="end" class="tk" textLength="17.5" lengthAdjust="spacingAndGlyphs">0.5</text>
<line x1="56" y1="78.9" x2="61.3" y2="78.9" stroke="#000" stroke-width="1.6"/>
<text x="51.3" y="83.2" text-anchor="end" class="tk" textLength="17.5" lengthAdjust="spacingAndGlyphs">0.6</text>
<line x1="56" y1="26.0" x2="61.3" y2="26.0" stroke="#000" stroke-width="1.6"/>
<text x="51.3" y="30.3" text-anchor="end" class="tk" textLength="17.5" lengthAdjust="spacingAndGlyphs">0.7</text>
<line x1="77.1" y1="411.7" x2="77.1" y2="416.6" stroke="#000" stroke-width="1.6"/>
<text x="77.1" y="432.6" text-anchor="middle" class="tk" textLength="7.2" lengthAdjust="spacingAndGlyphs">0</text>
<line x1="202.4" y1="411.7" x2="202.4" y2="416.6" stroke="#000" stroke-width="1.6"/>
<text x="202.4" y="432.6" text-anchor="middle" class="tk" textLength="28.4" lengthAdjust="spacingAndGlyphs">5000</text>
<line x1="327.6" y1="411.7" x2="327.6" y2="416.6" stroke="#000" stroke-width="1.6"/>
<text x="327.6" y="432.6" text-anchor="middle" class="tk" textLength="35.6" lengthAdjust="spacingAndGlyphs">10000</text>
<line x1="452.9" y1="411.7" x2="452.9" y2="416.6" stroke="#000" stroke-width="1.6"/>
<text x="452.9" y="432.6" text-anchor="middle" class="tk" textLength="35.6" lengthAdjust="spacingAndGlyphs">15000</text>
<text x="285.6" y="453.2" text-anchor="middle" class="tt" textLength="227" lengthAdjust="spacingAndGlyphs">Mitochondria CpGs genomic location (bp)</text>
<text transform="translate(24.8,211.2) rotate(-90)" x="0" y="0" text-anchor="middle" class="tt" textLength="128.2" lengthAdjust="spacingAndGlyphs">Methylation percentage</text>
<rect x="125.9" y="14.3" width="9.4" height="7.3" fill="#476a2e" stroke="#23550a" stroke-width="1"/>
<text x="141" y="21.2" class="lg" textLength="112.5" lengthAdjust="spacingAndGlyphs">Healthy Control (HC)</text>
<rect x="269.4" y="14.3" width="9.2" height="7.3" fill="#382a80" stroke="#1f0c6e" stroke-width="1"/>
<text x="284.3" y="21.2" class="lg" textLength="72.4" lengthAdjust="spacingAndGlyphs">SCD-Baseline</text>
<rect x="372.6" y="14.3" width="9.4" height="7.3" fill="#c42418" stroke="#bb0c00" stroke-width="1"/>
<text x="387.6" y="21.2" class="lg" textLength="56.3" lengthAdjust="spacingAndGlyphs">SCD-Crisis</text>
</svg>
</body></html>
